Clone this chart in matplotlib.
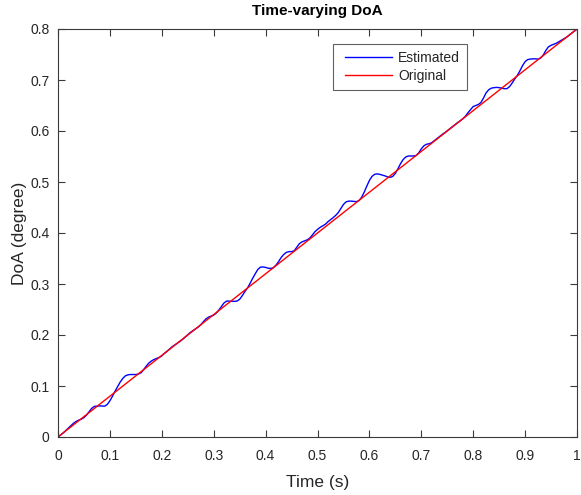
import numpy as np
import matplotlib
matplotlib.use("Agg")
import matplotlib.pyplot as plt

plt.rcParams['font.family'] = ['Liberation Sans', 'DejaVu Sans']

# Sampling instants of the estimator output (s)
time_s = np.linspace(0.0, 1.0, 201)

# Estimated DoA (degree), one value per sampling instant
estimated_doa = [
    0.0000, 0.0040, 0.0080, 0.0126, 0.0176, 0.0224, 0.0270, 0.0306, 0.0330, 0.0350,
    0.0380, 0.0430, 0.0496, 0.0563, 0.0600, 0.0605, 0.0610, 0.0607, 0.0605, 0.0640,
    0.0710, 0.0800, 0.0900, 0.0990, 0.1080, 0.1150, 0.1200, 0.1220, 0.1225, 0.1225,
    0.1225, 0.1235, 0.1260, 0.1320, 0.1390, 0.1450, 0.1490, 0.1520, 0.1540, 0.1560,
    0.1590, 0.1640, 0.1680, 0.1726, 0.1770, 0.1806, 0.1840, 0.1874, 0.1914, 0.1960,
    0.2006, 0.2050, 0.2086, 0.2120, 0.2154, 0.2200, 0.2260, 0.2315, 0.2350, 0.2370,
    0.2390, 0.2430, 0.2490, 0.2560, 0.2630, 0.2665, 0.2665, 0.2663, 0.2660, 0.2665,
    0.2700, 0.2770, 0.2850, 0.2920, 0.3010, 0.3110, 0.3200, 0.3285, 0.3330, 0.3335,
    0.3325, 0.3310, 0.3305, 0.3320, 0.3370, 0.3440, 0.3520, 0.3580, 0.3620, 0.3635,
    0.3635, 0.3650, 0.3720, 0.3790, 0.3825, 0.3845, 0.3865, 0.3900, 0.3960, 0.4025,
    0.4070, 0.4110, 0.4140, 0.4170, 0.4220, 0.4260, 0.4300, 0.4345, 0.4400, 0.4480,
    0.4560, 0.4610, 0.4625, 0.4625, 0.4620, 0.4615, 0.4635, 0.4700, 0.4800, 0.4920,
    0.5030, 0.5110, 0.5150, 0.5160, 0.5150, 0.5135, 0.5120, 0.5100, 0.5090, 0.5110,
    0.5170, 0.5260, 0.5360, 0.5440, 0.5490, 0.5510, 0.5510, 0.5510, 0.5520, 0.5570,
    0.5650, 0.5710, 0.5740, 0.5750, 0.5770, 0.5810, 0.5850, 0.5890, 0.5930, 0.5965,
    0.6005, 0.6045, 0.6085, 0.6125, 0.6165, 0.6200, 0.6240, 0.6290, 0.6360, 0.6420,
    0.6480, 0.6500, 0.6520, 0.6560, 0.6650, 0.6750, 0.6810, 0.6840, 0.6850, 0.6855,
    0.6850, 0.6840, 0.6830, 0.6830, 0.6870, 0.6940, 0.7020, 0.7090, 0.7180, 0.7280,
    0.7360, 0.7400, 0.7410, 0.7415, 0.7415, 0.7410, 0.7430, 0.7490, 0.7580, 0.7650,
    0.7680, 0.7700, 0.7720, 0.7750, 0.7780, 0.7810, 0.7840, 0.7880, 0.7920, 0.7960,
    0.8000,
]

# Original (true) DoA: linear sweep
original_time = [0.0, 1.0]
original_doa = [0.0, 0.8]

x_ticks = [0, 0.1, 0.2, 0.3, 0.4, 0.5, 0.6, 0.7, 0.8, 0.9, 1]
x_tick_labels = ['0', '0.1', '0.2', '0.3', '0.4', '0.5', '0.6', '0.7', '0.8', '0.9', '1']
y_ticks = [0, 0.1, 0.2, 0.3, 0.4, 0.5, 0.6, 0.7, 0.8]
y_tick_labels = ['0', '0.1', '0.2', '0.3', '0.4', '0.5', '0.6', '0.7', '0.8']

axis_color = '#3a3a3a'
text_color = '#262626'

fig = plt.figure(figsize=(5.81, 4.95), dpi=100)
ax = fig.add_axes([58 / 581, 1 - 437 / 495, 519 / 581, 408 / 495])

ax.plot(time_s, estimated_doa, color='#0000ff', lw=1.0, label='Estimated')
ax.plot(original_time, original_doa, color='#ff0000', lw=1.0, label='Original')

ax.set_xlim(0, 1)
ax.set_ylim(0, 0.8)
ax.set_xticks(x_ticks)
ax.set_xticklabels(x_tick_labels)
ax.set_yticks(y_ticks)
ax.set_yticklabels(y_tick_labels)

ax.tick_params(direction='in', length=5, width=0.8, colors=axis_color,
               labelcolor=text_color, labelsize=10, top=True, right=True)
ax.tick_params(axis='x', pad=9)
ax.tick_params(axis='y', pad=6)
for sp in ax.spines.values():
    sp.set_color(axis_color)
    sp.set_linewidth(0.8)

ax.set_title('Time-varying DoA', fontsize=11, fontweight='bold', color='#000000', pad=10)
ax.set_xlabel('Time (s)', fontsize=12.5, color=text_color, labelpad=8)
ax.set_ylabel('DoA (degree)', fontsize=12.5, color=text_color, labelpad=2.5)

# Legend: handle box a bit wider than the sample line, line inset from the left
handle_len = 3.74
leg = ax.legend(loc='upper left', bbox_to_anchor=(0.530, 0.963), borderaxespad=0,
                fontsize=10, frameon=True, fancybox=False, handlelength=handle_len,
                handletextpad=0.43, borderpad=0.5, labelspacing=0.3)
leg.get_frame().set_edgecolor(axis_color)
leg.get_frame().set_linewidth(0.8)
for t in leg.get_texts():
    t.set_color(text_color)
for ln in leg.get_lines():
    xd = np.asarray(ln.get_xdata(), dtype=float)
    ln.set_xdata(np.linspace(xd[0] + 3.6, xd[-1], len(xd)))

fig.savefig('out.png', dpi=100)
